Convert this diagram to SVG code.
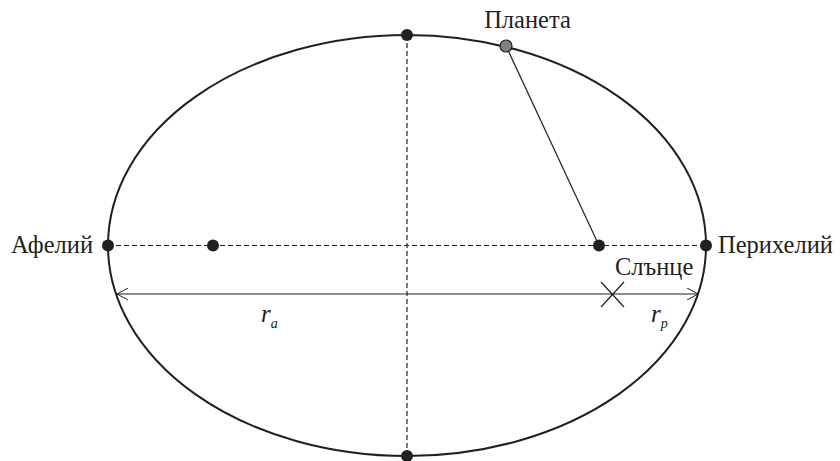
<svg xmlns="http://www.w3.org/2000/svg" width="840" height="461" viewBox="0 0 840 461">
<defs>
<style>
.lbl{font-family:"Liberation Serif","DejaVu Serif",serif;font-size:24.5px;fill:#231f20}
.it{font-family:"Liberation Serif","DejaVu Serif",serif;font-style:italic;fill:#231f20}
.dash{stroke:#231f20;stroke-width:1.2;stroke-dasharray:5 3;fill:none}
.thin{stroke:#231f20;stroke-width:1.2;fill:none}
.dot{fill:#231f20}
</style>
<marker id="arr" viewBox="0 0 12 12" refX="11" refY="6" markerWidth="12" markerHeight="12" markerUnits="userSpaceOnUse" orient="auto-start-reverse">
<path d="M0,0 L11,6 L0,12" fill="none" stroke="#231f20" stroke-width="1"/>
</marker>
</defs>
<rect width="840" height="461" fill="#fff"/>
<g id="orbit">
<ellipse cx="407" cy="245.5" rx="299" ry="210.5" fill="none" stroke="#231f20" stroke-width="2"/>
</g>
<g id="connectors">
<line class="dash" x1="108" y1="245.5" x2="706" y2="245.5"/>
<line class="dash" x1="407" y1="35" x2="407" y2="456"/>
<line class="thin" x1="506" y1="46" x2="599" y2="245.5"/>
<line class="thin" x1="117" y1="294" x2="698" y2="294" marker-start="url(#arr)" marker-end="url(#arr)"/>
<line class="thin" x1="601" y1="282" x2="624" y2="307"/>
<line class="thin" x1="624" y1="282" x2="601" y2="307"/>
</g>
<g id="top"><circle class="dot" cx="407" cy="35" r="6"/></g>
<g id="bottom"><circle class="dot" cx="407" cy="456" r="6"/></g>
<g id="focus-left"><circle class="dot" cx="213" cy="245.5" r="6"/></g>
<g id="sun"><circle class="dot" cx="599" cy="245.5" r="6"/><text class="lbl" x="615" y="275">Слънце</text></g>
<g id="aphelion"><circle class="dot" cx="108" cy="245.5" r="6"/><text class="lbl" x="93" y="253" text-anchor="end">Афелий</text></g>
<g id="perihelion"><circle class="dot" cx="706" cy="245.5" r="6"/><text class="lbl" x="718" y="253">Перихелий</text></g>
<g id="planet"><circle cx="506" cy="46" r="6" fill="#808080" stroke="#231f20" stroke-width="1.2"/><text class="lbl" x="527.5" y="28" text-anchor="middle">Планета</text></g>
<g id="ra"><text class="it" x="261" y="322" font-size="25">r<tspan font-size="14" dy="6">a</tspan></text></g>
<g id="rp"><text class="it" x="651" y="322" font-size="25">r<tspan font-size="14" dy="6">p</tspan></text></g>
</svg>
